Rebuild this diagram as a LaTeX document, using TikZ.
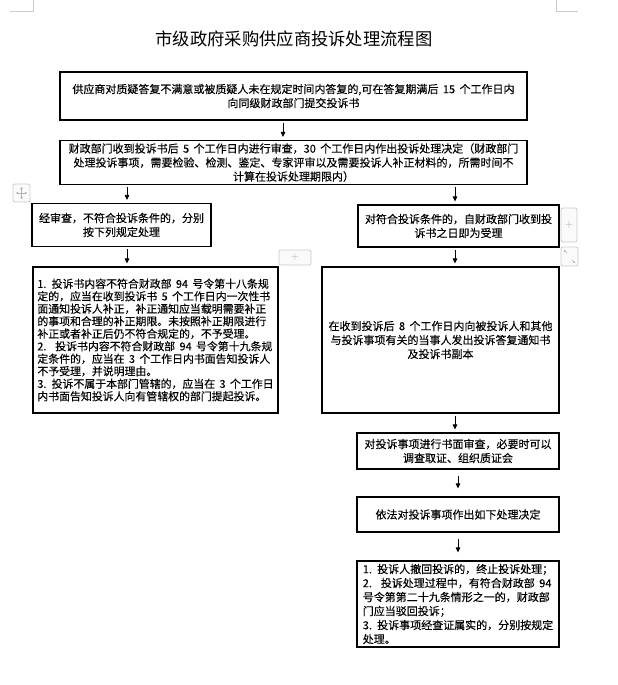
\documentclass[tikz,border=0pt]{standalone}
\usepackage{fontspec}
\newfontfamily\cjk[WordSpace=1.8,FakeBold=0.2]{Noto Sans CJK SC}
\newfontfamily\cjktitle[WordSpace=1.8]{Noto Sans CJK SC}
\usetikzlibrary{arrows.meta}
\begin{document}
\begin{tikzpicture}[x=1pt,y=-1pt,
  box/.style={draw=black, line width=1.1pt, inner ysep=0pt, inner xsep=0pt, align=center, text=black,
    font=\cjk\fontsize{11}{14}\selectfont},
  lbox/.style={box, align=left},
  arr/.style={line width=0.9pt, -{Triangle[length=5pt,width=4.5pt]}, shorten <=2pt, shorten >=3pt},
  ui/.style={draw=gray!40, line width=0.8pt},
  uiicon/.style={draw=gray!40, line width=0.8pt, rounded corners=2pt, fill=gray!4}]
\useasboundingbox (0,0) rectangle (618,685);
\fill[white] (0,0) rectangle (618,685);

% page corner marks
\draw[ui] (10,11) -- (33,11) -- (33,0);
\draw[ui] (578,11) -- (556,11) -- (556,0);

% title
\node[font=\cjktitle\fontsize{17.3}{20}\selectfont] (title) at (294,39) {市级政府采购供应商投诉处理流程图};

% boxes
\node[box, minimum width=467pt, minimum height=48pt] (b1) at (293.5,96)
  {供应商对质疑答复不满意或被质疑人未在规定时间内答复的,可在答复期满后 15 个工作日内\\向同级财政部门提交投诉书};
\node[box, minimum width=467pt, minimum height=44pt] (b2) at (293.5,162.5)
  {财政部门收到投诉书后 5 个工作日内进行审查，30 个工作日内作出投诉处理决定（财政部门\\处理投诉事项，需要检验、检测、鉴定、专家评审以及需要投诉人补正材料的，所需时间不\\计算在投诉处理期限内）};

\node[box, minimum width=179pt, minimum height=43pt] (l1) at (121.5,225)
  {经审查，不符合投诉条件的，分别\\按下列规定处理};
\node[lbox, minimum width=245pt, minimum height=146pt, font=\cjk\fontsize{10.9}{12.5}\selectfont] (l2) at (155.5,340)
  {1. 投诉书内容不符合财政部 94 号令第十八条规\\
   定的，应当在收到投诉书 5 个工作日内一次性书\\
   面通知投诉人补正，补正通知应当载明需要补正\\
   的事项和合理的补正期限。未按照补正期限进行\\
   补正或者补正后仍不符合规定的，不予受理。\\
   2.\ \ 投诉书内容不符合财政部 94 号令第十九条规\\
   定条件的，应当在 3 个工作日内书面告知投诉人\\
   不予受理，并说明理由。\\
   3. 投诉不属于本部门管辖的，应当在 3 个工作日\\
   内书面告知投诉人向有管辖权的部门提起投诉。};

\node[box, minimum width=201pt, minimum height=42pt] (r1) at (458.5,226)
  {对符合投诉条件的，自财政部门收到投\\诉书之日即为受理};
\node[box, minimum width=237pt, minimum height=146pt] (r2) at (440.5,340)
  {在收到投诉后 8 个工作日内向被投诉人和其他\\与投诉事项有关的当事人发出投诉答复通知书\\及投诉书副本};
\node[box, minimum width=202pt, minimum height=36pt] (r3) at (458,451)
  {对投诉事项进行书面审查，必要时可以\\调查取证、组织质证会};
\node[box, minimum width=202pt, minimum height=35pt] (r4) at (458,514.5)
  {依法对投诉事项作出如下处理决定};
\node[lbox, minimum width=202pt, minimum height=86pt] (r5) at (458,604)
  {1. 投诉人撤回投诉的，终止投诉处理；\\
   2.\ \ 投诉处理过程中，有符合财政部 94\\
   号令第第二十九条情形之一的，财政部\\
   门应当驳回投诉；\\
   3. 投诉事项经查证属实的，分别按规定\\
   处理。};

% arrow columns
\coordinate (xa) at (283,0);
\coordinate (xl) at (127,0);
\coordinate (xr) at (455,0);
\coordinate (xs) at (458,0);

\draw[arr] (b1.south -| xa) -- (b2.north -| xa);
\draw[arr] (b2.south -| xl) -- (l1.north -| xl);
\draw[arr] (b2.south -| xr) -- (r1.north -| xr);
\draw[arr] (l1.south -| xl) -- (l2.north -| xl);
\draw[arr] (r1.south -| xr) -- (r2.north -| xr);
\draw[arr] (r2.south -| xr) -- (r3.north -| xr);
\draw[arr, shorten <=6pt, shorten >=8pt] (r3.south -| xs) -- (r4.north -| xs);
\draw[arr, shorten <=6pt, shorten >=8pt] (r4.south -| xs) -- (r5.north -| xs);

% editor handles
\draw[uiicon] (13,184) rectangle (30,202);
\draw[gray!60, line width=0.6pt, {Triangle[length=2pt,width=2.5pt]}-{Triangle[length=2pt,width=2.5pt]}] (16,193) -- (27,193);
\draw[gray!60, line width=0.6pt, {Triangle[length=2pt,width=2.5pt]}-{Triangle[length=2pt,width=2.5pt]}] (21.5,187) -- (21.5,199);
\draw[uiicon] (279,250) rectangle (311,265);
\node[text=gray!70, font=\fontsize{10}{10}\selectfont, inner sep=0pt] (plus1) at (295,257) {+};
\draw[uiicon] (561,208) rectangle (577,242);
\node[text=gray!70, font=\fontsize{11}{11}\selectfont, inner sep=0pt] (plus2) at (569,225) {+};
\draw[uiicon] (561,247) rectangle (578,266);
\draw[gray!60, line width=0.5pt, -{Triangle[length=1.5pt,width=2pt]}] (567,253) -- (564,250);
\draw[gray!60, line width=0.5pt, -{Triangle[length=1.5pt,width=2pt]}] (572,260) -- (575,263);
\end{tikzpicture}
\end{document}
